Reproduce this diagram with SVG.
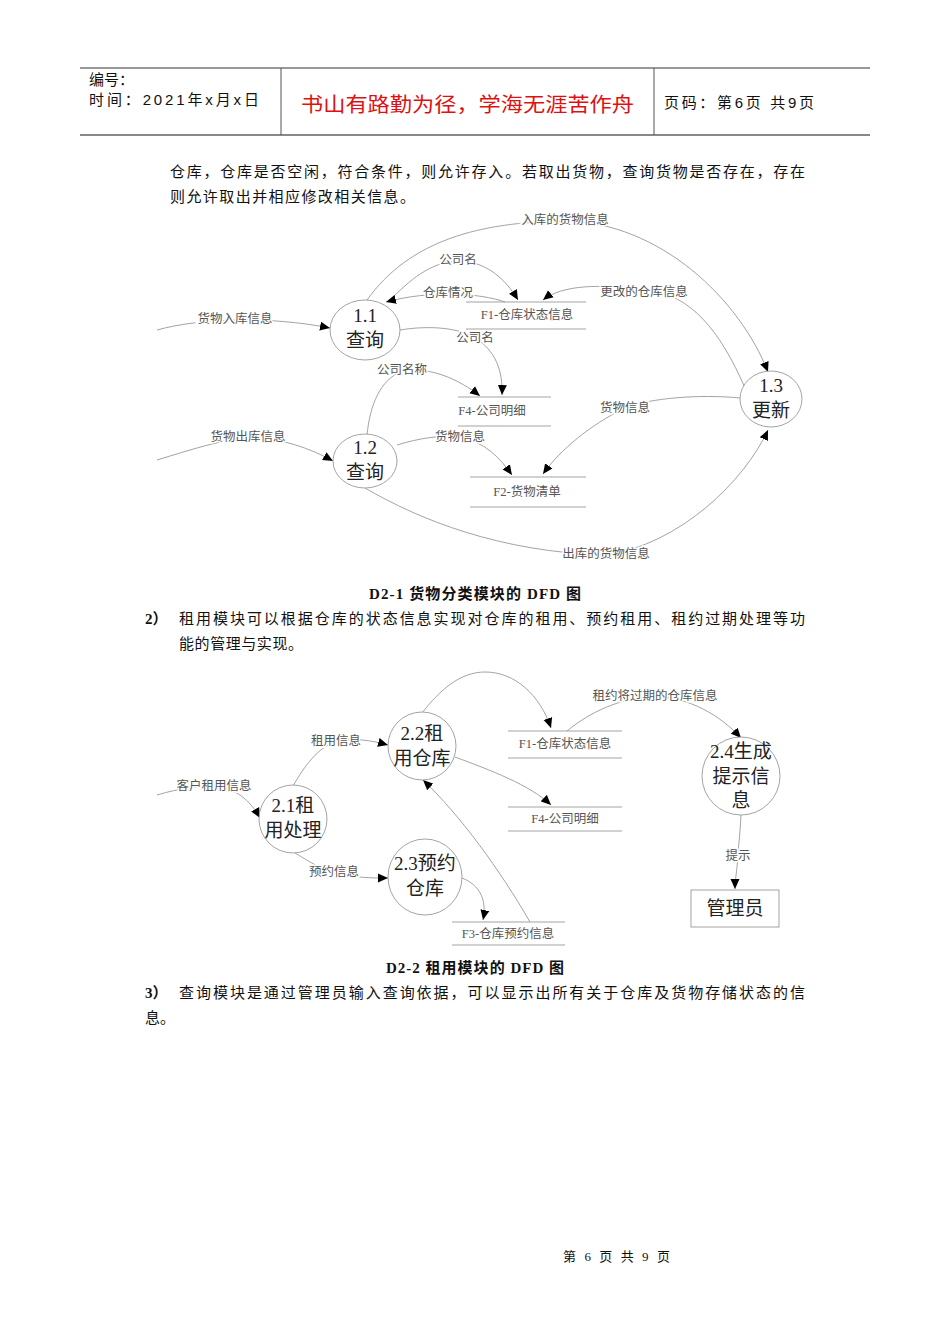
<svg xmlns="http://www.w3.org/2000/svg" width="950" height="1344" viewBox="0 0 950 1344">
<style>
.t{font-family:"Liberation Serif","Noto Sans CJK SC",serif;fill:#111}
.h{font-family:"Liberation Sans","Noto Sans CJK SC",sans-serif;fill:#111;font-size:15px}
.lbl{font-family:"Liberation Serif","Noto Sans CJK SC",serif;font-size:12.5px;fill:#555;text-anchor:middle;stroke:#fff;stroke-width:3px;paint-order:stroke}
.node{fill:#fff;stroke:#999;stroke-width:0.9}
.nt{font-family:"Liberation Serif","Noto Sans CJK SC",serif;font-size:19px;fill:#222;text-anchor:middle}
.ds{stroke:#999;stroke-width:0.9}
.c{fill:none;stroke:#999;stroke-width:0.9;marker-end:url(#ah)}
</style>
<defs>
<marker id="ah" markerUnits="userSpaceOnUse" markerWidth="10" markerHeight="10" refX="10" refY="5" orient="auto" viewBox="0 0 10 10">
<path d="M0,0.5 L10,5 L0,9.5 z" fill="#000"/>
</marker>
</defs>
<rect width="950" height="1344" fill="#fff"/>

<g id="header">
<line x1="80" y1="68" x2="870" y2="68" stroke="#333" stroke-width="1"/>
<line x1="80" y1="135" x2="870" y2="135" stroke="#888" stroke-width="2"/>
<line x1="281" y1="68" x2="281" y2="135" stroke="#555" stroke-width="1"/>
<line x1="654" y1="68" x2="654" y2="135" stroke="#555" stroke-width="1"/>
<text class="h" x="89" y="85">编号：</text>
<text class="h" x="89" y="105" textLength="170" lengthAdjust="spacing">时间：2021年x月x日</text>
<text x="301" y="112" font-family="Noto Sans CJK SC,sans-serif" font-size="20" fill="#e01010" textLength="333" lengthAdjust="spacingAndGlyphs">书山有路勤为径，学海无涯苦作舟</text>
<text class="h" x="664" y="108" textLength="150" lengthAdjust="spacing">页码：第6页 共9页</text>
</g>

<g id="para1">
<text class="t" x="170" y="177" font-size="15" textLength="635" lengthAdjust="spacing">仓库，仓库是否空闲，符合条件，则允许存入。若取出货物，查询货物是否存在，存在</text>
<text class="t" x="170" y="202" font-size="15" textLength="245" lengthAdjust="spacing">则允许取出并相应修改相关信息。</text>
</g>

<g id="connectors1">
<path class="c" d="M157 330 C200 318,270 316,330 328"/>
<path class="c" d="M367 300 C410 240,480 222,565 221 C660 222,740 300,768 372"/>
<path class="c" d="M388 302 C410 280,430 262,458 261 C485 261,505 278,518 300"/>
<path class="c" d="M505 302 C480 293,430 290,386 302"/>
<path class="c" d="M745 388 C720 330,690 295,650 291 C600 283,562 285,543 300"/>
<path class="c" d="M400 330 C430 325,460 328,475 338 C495 350,503 370,502 395"/>
<path class="c" d="M367 435 C370 405,380 380,402 371 C430 366,460 380,480 396"/>
<path class="c" d="M397 445 C420 438,440 435,460 437 C485 442,500 458,512 475"/>
<path class="c" d="M740 398 C700 394,650 398,625 408 C590 425,560 450,543 474"/>
<path class="c" d="M157 460 C190 450,220 440,250 437 C280 438,310 448,333 461"/>
<path class="c" d="M365 488 C420 520,500 552,605 555 C680 545,745 480,768 430"/>
</g>

<g id="labels1">
<text class="lbl" x="235" y="323">货物入库信息</text>
<text class="lbl" x="565" y="224">入库的货物信息</text>
<text class="lbl" x="458" y="264">公司名</text>
<text class="lbl" x="448" y="297">仓库情况</text>
<text class="lbl" x="644" y="296">更改的仓库信息</text>
<text class="lbl" x="475" y="342">公司名</text>
<text class="lbl" x="402" y="374">公司名称</text>
<text class="lbl" x="625" y="412">货物信息</text>
<text class="lbl" x="248" y="441">货物出库信息</text>
<text class="lbl" x="460" y="441">货物信息</text>
<text class="lbl" x="606" y="558">出库的货物信息</text>
</g>

<g id="F1a">
<line class="ds" x1="466" y1="302" x2="586" y2="302"/>
<line class="ds" x1="466" y1="329" x2="586" y2="329"/>
<text class="lbl" x="527" y="319">F1-仓库状态信息</text>
</g>
<g id="F4a">
<line class="ds" x1="458" y1="397" x2="551" y2="397"/>
<line class="ds" x1="458" y1="426" x2="551" y2="426"/>
<text class="lbl" x="492" y="415">F4-公司明细</text>
</g>
<g id="F2a">
<line class="ds" x1="470" y1="477" x2="586" y2="477"/>
<line class="ds" x1="470" y1="507" x2="586" y2="507"/>
<text class="lbl" x="527" y="496">F2-货物清单</text>
</g>

<g id="n11">
<ellipse class="node" cx="365" cy="330" rx="35" ry="30"/>
<text class="nt" x="365" y="322">1.1</text>
<text class="nt" x="365" y="347">查询</text>
</g>
<g id="n12">
<ellipse class="node" cx="365" cy="461" rx="32" ry="27"/>
<text class="nt" x="365" y="454">1.2</text>
<text class="nt" x="365" y="479">查询</text>
</g>
<g id="n13">
<ellipse class="node" cx="771" cy="399" rx="31" ry="28"/>
<text class="nt" x="771" y="392">1.3</text>
<text class="nt" x="771" y="417">更新</text>
</g>

<g id="caption1">
<text class="t" x="369" y="599" font-size="15" font-weight="bold" textLength="212" lengthAdjust="spacing">D2-1 货物分类模块的 DFD 图</text>
<text class="t" x="145" y="624" font-size="15" font-weight="bold">2）</text>
<text class="t" x="179" y="624" font-size="15" textLength="626" lengthAdjust="spacing">租用模块可以根据仓库的状态信息实现对仓库的租用、预约租用、租约过期处理等功</text>
<text class="t" x="179" y="649" font-size="15" textLength="124" lengthAdjust="spacing">能的管理与实现。</text>
</g>

<g id="connectors2">
<path class="c" d="M157 795 C180 788,200 786,215 786 C235 788,250 800,260 818"/>
<path class="c" d="M293 786 C305 765,318 748,336 741 C355 738,370 740,388 745"/>
<path class="c" d="M422 713 C440 690,460 672,485 672 C515 672,540 695,551 728"/>
<path class="c" d="M567 731 C590 712,620 698,655 696 C690 698,720 715,741 738"/>
<path class="c" d="M455 757 C490 770,530 785,551 805"/>
<path class="c" d="M295 853 C310 862,322 870,335 872 C355 878,370 878,388 878"/>
<path class="c" d="M462 878 C480 885,487 900,483 920"/>
<path class="c" d="M530 922 C500 870,460 815,423 780"/>
<path class="c" d="M741 815 C740 835,738 850,738 856 C737 870,735 880,735 889"/>
</g>

<g id="labels2">
<text class="lbl" x="214" y="790">客户租用信息</text>
<text class="lbl" x="336" y="745">租用信息</text>
<text class="lbl" x="655" y="700">租约将过期的仓库信息</text>
<text class="lbl" x="334" y="876">预约信息</text>
<text class="lbl" x="738" y="860">提示</text>
</g>

<g id="F1b">
<line class="ds" x1="508" y1="731" x2="622" y2="731"/>
<line class="ds" x1="508" y1="758" x2="622" y2="758"/>
<text class="lbl" x="565" y="748">F1-仓库状态信息</text>
</g>
<g id="F4b">
<line class="ds" x1="508" y1="807" x2="622" y2="807"/>
<line class="ds" x1="508" y1="831" x2="622" y2="831"/>
<text class="lbl" x="565" y="823">F4-公司明细</text>
</g>
<g id="F3b">
<line class="ds" x1="452" y1="922" x2="565" y2="922"/>
<line class="ds" x1="452" y1="945" x2="565" y2="945"/>
<text class="lbl" x="508" y="938">F3-仓库预约信息</text>
</g>

<g id="n21">
<circle class="node" cx="293" cy="819" r="34"/>
<text class="nt" x="293" y="812">2.1租</text>
<text class="nt" x="293" y="837">用处理</text>
</g>
<g id="n22">
<circle class="node" cx="422" cy="746" r="34"/>
<text class="nt" x="422" y="740">2.2租</text>
<text class="nt" x="422" y="765">用仓库</text>
</g>
<g id="n23">
<ellipse class="node" cx="425" cy="877" rx="37" ry="38"/>
<text class="nt" x="425" y="870">2.3预约</text>
<text class="nt" x="425" y="895">仓库</text>
</g>
<g id="n24">
<circle class="node" cx="741" cy="776" r="39"/>
<text class="nt" x="741" y="758">2.4生成</text>
<text class="nt" x="741" y="783">提示信</text>
<text class="nt" x="741" y="807">息</text>
</g>
<g id="admin">
<rect class="node" x="691" y="890" width="88" height="37"/>
<text class="nt" x="735" y="915">管理员</text>
</g>

<g id="caption2">
<text class="t" x="386" y="973" font-size="15" font-weight="bold" textLength="178" lengthAdjust="spacing">D2-2 租用模块的 DFD 图</text>
<text class="t" x="145" y="998" font-size="15" font-weight="bold">3）</text>
<text class="t" x="179" y="998" font-size="15" textLength="626" lengthAdjust="spacing">查询模块是通过管理员输入查询依据，可以显示出所有关于仓库及货物存储状态的信</text>
<text class="t" x="145" y="1023" font-size="15">息。</text>
</g>

<g id="footer">
<text class="t" x="563" y="1261" font-size="13" textLength="107" lengthAdjust="spacing">第 6 页 共 9 页</text>
</g>
</svg>
